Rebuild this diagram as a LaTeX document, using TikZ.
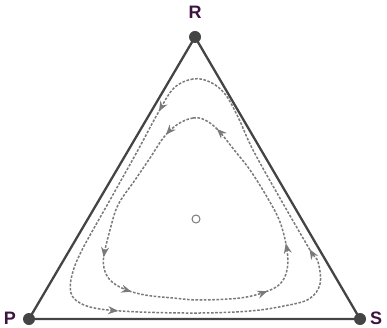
\documentclass[tikz,border=0pt]{standalone}
\usepackage{fontspec}
\setsansfont{Liberation Sans}
\usetikzlibrary{arrows.meta,decorations.markings}

\definecolor{edgegray}{HTML}{444444}
\definecolor{orbitgray}{HTML}{7A7A7A}
\definecolor{labelpurple}{HTML}{3D1340}

\tikzset{
  flowtip/.tip={Stealth[length=10pt, width=8pt]},
  vertex/.style={circle, fill=edgegray, inner sep=0pt, minimum size=12pt},
  corner label/.style={text=labelpurple, font=\sffamily\bfseries\fontsize{18}{20}\selectfont, inner sep=0pt},
  orbit/.style={orbitgray, line width=1.5pt, dash pattern=on 2.6pt off 1.6pt, line join=round},
}

\begin{document}
\begin{tikzpicture}[x=1pt, y=-1pt]
    \useasboundingbox (0,0) rectangle (387,328);

    \coordinate (r) at (195,37);
    \coordinate (p) at (29,319);
    \coordinate (s) at (360,319);

    \draw[edgegray, line width=2.3pt, line join=round] (r) -- (s) -- (p) -- cycle;

    % outer orbit
    \draw[orbit, postaction={decorate}, decoration={markings,
        mark=at position 0.064 with {\arrow[orbitgray]{flowtip}},
        mark=at position 0.398 with {\arrow[orbitgray]{flowtip}},
        mark=at position 0.722 with {\arrow[orbitgray]{flowtip}}}]
      plot[smooth cycle, tension=0.6] coordinates {
        (210,82) (193,79) (174,88) (158,113) (138,150) (110,200) (82,250)
        (72,275) (71,293) (80,303) (100,309) (140,312) (200,313) (250,311)
        (284,306) (309,299) (320,284) (318,262) (310,250) (281,200) (253,150)
        (238,117) (225,94)};

    % inner orbit
    \draw[orbit, postaction={decorate}, decoration={markings,
        mark=at position 0.056 with {\arrow[orbitgray]{flowtip}},
        mark=at position 0.297 with {\arrow[orbitgray]{flowtip}},
        mark=at position 0.382 with {\arrow[orbitgray]{flowtip}},
        mark=at position 0.620 with {\arrow[orbitgray]{flowtip}},
        mark=at position 0.719 with {\arrow[orbitgray]{flowtip}},
        mark=at position 0.953 with {\arrow[orbitgray]{flowtip}}}]
      plot[smooth cycle, tension=0.6] coordinates {
        (205,120) (193,118) (178,124) (164,137) (150,158) (135,180) (118,205)
        (110,230) (104,255) (104,268) (110,280) (124,289) (145,295) (173,298)
        (200,300) (240,298) (265,292) (280,284) (287,270) (287,250) (280,222)
        (267,197) (250,170) (235,151) (218,130)};

    \node[vertex] (R) at (r) {};
    \node[vertex] (P) at (p) {};
    \node[vertex] (S) at (s) {};

    \node[corner label] (labR) at (195,12) {R};
    \node[corner label] (labP) at (10,318) {P};
    \node[corner label] (labS) at (376,318) {S};

    \node[circle, draw=orbitgray, fill=white, line width=1pt, inner sep=0pt, minimum size=8pt] (mid) at (196,219) {};
\end{tikzpicture}
\end{document}
